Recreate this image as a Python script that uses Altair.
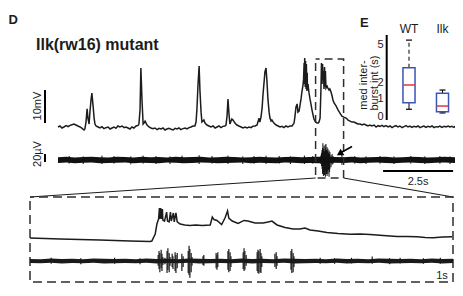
import math
import altair as alt
import pandas as pd

# ================= values =================
# Panel D, upper trace: membrane potential (mV above rest) vs time (s)
vm_samples = [
    (0.00, 0.0), (0.07, 0.3), (0.14, -0.3), (0.21, 0.0), (0.29, 0.4), (0.36, 0.1), (0.43, 0.5),
    (0.50, 0.7), (0.57, 0.9), (0.64, 0.6), (0.71, 0.3), (0.79, 0.0), (0.86, -0.4),
    (0.93, -0.9), (0.96, -0.6), (1.00, 1.5), (1.04, 5.5), (1.07, 2.7), (1.11, 0.9), (1.14, 4.5),
    (1.18, 8.2), (1.21, 10.3), (1.25, 6.7), (1.29, 2.7), (1.32, 0.9), (1.36, 0.3),
    (1.43, 0.0), (1.50, -0.3), (1.57, 0.1), (1.64, -0.5), (1.71, -0.2), (1.79, 0.0), (1.86, -0.6),
    (1.93, -0.3), (2.00, 0.0), (2.07, -0.4), (2.14, 0.3), (2.21, 0.0), (2.29, 0.3), (2.36, -0.2),
    (2.43, 0.0), (2.50, -0.3), (2.57, -0.6), (2.64, 0.0), (2.71, -0.3), (2.79, 0.3), (2.86, 0.5),
    (2.89, 0.9), (2.93, 5.2), (2.96, 17.9), (3.00, 8.2), (3.04, 0.9), (3.07, 1.2), (3.11, 1.8), (3.18, 0.6),
    (3.25, 0.0), (3.32, -0.3), (3.39, -0.5), (3.46, -0.3), (3.54, -0.8), (3.61, -0.4), (3.68, -0.6),
    (3.75, -0.3), (3.82, -0.9), (3.89, -0.6), (3.96, -0.4), (4.04, -0.7), (4.11, -0.9), (4.18, -0.4),
    (4.25, -0.6), (4.32, -0.3), (4.39, -0.8), (4.46, -0.5), (4.54, -0.3), (4.61, -0.6), (4.68, -0.2),
    (4.75, 0.0), (4.82, 0.3),
    (4.89, 0.3), (4.93, 1.5), (4.96, 5.2), (5.00, 12.7), (5.04, 18.5), (5.07, 11.0), (5.11, 4.5),
    (5.14, 1.5), (5.18, 1.8), (5.21, 2.1), (5.25, 1.2), (5.32, 0.6),
    (5.39, 0.3), (5.46, 0.0), (5.54, 0.3), (5.61, -0.3), (5.68, 0.0), (5.75, 0.3), (5.82, -0.2),
    (5.89, 0.2), (5.96, 0.3),
    (6.00, 0.6), (6.04, 3.6), (6.07, 8.5), (6.11, 3.6), (6.14, 0.9), (6.18, 1.8), (6.21, 2.4),
    (6.25, 2.1), (6.32, 1.2), (6.39, 0.6),
    (6.46, 0.3), (6.54, 0.0), (6.61, -0.3), (6.68, 0.0), (6.75, -0.3), (6.82, 0.0), (6.89, -0.2),
    (6.96, 0.2), (7.04, 0.3),
    (7.11, 0.6), (7.14, 1.5), (7.18, 2.7), (7.21, 1.5), (7.25, 3.0), (7.29, 5.8), (7.32, 9.7),
    (7.36, 13.6), (7.39, 16.7), (7.43, 17.9), (7.46, 14.2), (7.50, 8.2), (7.54, 4.5), (7.57, 2.7),
    (7.61, 1.8), (7.64, 2.1), (7.71, 1.2), (7.79, 0.6),
    (7.86, 0.3), (7.93, 0.0), (8.00, 0.2), (8.07, -0.2), (8.14, 0.3), (8.21, 0.0), (8.29, 0.3),
    (8.36, 0.3), (8.43, 1.2), (8.46, 3.0), (8.50, 6.1), (8.54, 7.0), (8.57, 4.5), (8.61, 4.8),
    (8.64, 6.4), (8.68, 8.5), (8.71, 10.6), (8.75, 12.7), (8.77, 14.5), (8.79, 19.4), (8.80, 13.0),
    (8.81, 20.9), (8.83, 12.1), (8.84, 20.0), (8.86, 11.5), (8.87, 19.1), (8.89, 10.9), (8.90, 16.4),
    (8.91, 11.2), (8.93, 13.0), (8.96, 10.6), (9.00, 8.5), (9.04, 6.7), (9.07, 5.2), (9.11, 3.6),
    (9.14, 2.4), (9.18, 1.8), (9.21, 1.5), (9.25, 1.2), (9.29, 1.2), (9.32, 1.5),
    (9.36, 2.7), (9.39, 11.2), (9.41, 19.4), (9.43, 13.0), (9.45, 19.1), (9.46, 14.5), (9.48, 17.0),
    (9.50, 11.5), (9.52, 18.2), (9.54, 12.1), (9.55, 17.0), (9.57, 11.8), (9.61, 12.4), (9.64, 11.8),
    (9.68, 11.2), (9.71, 11.5), (9.75, 10.6), (9.79, 9.4), (9.82, 8.2), (9.86, 7.3), (9.93, 6.4),
    (10.00, 5.2), (10.07, 4.2), (10.14, 3.3), (10.21, 3.0), (10.29, 2.7), (10.36, 2.1), (10.43, 1.8),
    (10.50, 1.5), (10.57, 1.5), (10.64, 1.2), (10.71, 0.9), (10.79, 0.9), (10.86, 0.6),
    (10.93, 0.9), (11.00, 0.6), (11.07, 0.3), (11.14, 0.6), (11.21, 0.3), (11.29, 0.6), (11.36, 0.0),
    (11.43, 0.4), (11.50, 0.2), (11.57, 0.5), (11.64, 0.1), (11.71, 0.4), (11.79, 0.0), (11.86, 0.3),
    (11.93, -0.2), (12.00, 0.2), (12.07, 0.4), (12.14, 0.0), (12.21, 0.3), (12.29, -0.2), (12.36, 0.1),
    (12.43, 0.4), (12.50, 0.0), (12.57, 0.3), (12.64, -0.1), (12.71, 0.2), (12.79, 0.0), (12.86, 0.3),
    (12.93, -0.2), (13.00, 0.1), (13.07, 0.3), (13.14, -0.1), (13.21, 0.2), (13.29, 0.0), (13.36, 0.3),
    (13.43, -0.2), (13.50, 0.1), (13.57, 0.0), (13.64, 0.3), (13.71, -0.1), (13.79, 0.2), (13.86, 0.0),
    (13.93, 0.3), (14.00, 0.0), (14.07, 0.2), (14.14, -0.1), (14.18, 0.2),
]

# Panel D, lower trace: extracellular record, noise envelope (µV)
field_t = [0.0, 0.3, 0.6, 0.9, 1.2, 1.5, 1.8, 2.1, 2.4, 2.7, 3.0, 3.3, 3.6, 3.9, 4.2, 4.5,
           4.8, 5.1, 5.4, 5.7, 6.0, 6.3, 6.6, 6.9, 7.2, 7.5, 7.8, 8.1, 8.4, 8.7, 9.0, 9.3,
           9.6, 9.9, 10.2, 10.5, 10.8, 11.1, 11.4, 11.7, 12.0, 12.3, 12.6, 12.9, 13.2, 13.5,
           13.8, 14.18]
field_hi = [7, 8, 6.5, 7.5, 8, 7, 6.5, 8, 7.5, 6.5, 8, 7, 7.5, 6.5, 8, 7, 7.5, 8, 6.5, 7, 8,
            7.5, 6.5, 7, 8, 7, 6.5, 7.5, 8, 7, 7.5, 8, 8, 7.5, 7, 8, 6.5, 7, 7.5, 8, 6.5, 7, 8,
            7.5, 6.5, 7, 8, 7]
field_lo = [-7.5, -6.5, -8, -7, -6.5, -8, -7.5, -7, -6.5, -8, -7, -7.5, -8, -6.5, -7, -8, -7.5,
            -6.5, -7, -8, -7.5, -7, -6.5, -8, -7, -7.5, -8, -6.5, -7, -8, -7.5, -8, -8, -7, -7.5,
            -6.5, -8, -7, -6.5, -7.5, -8, -7, -6.5, -7.5, -8, -7, -6.5, -7.5]
# isolated unit spikes: (time s, upper µV, lower µV)
field_spikes = [
    (0.4, 10, -9), (0.9, 9, -10), (1.57, 11, -10), (2.0, 10, -9), (2.6, 9, -11), (3.04, 11, -9),
    (3.5, 10, -10), (4.0, 9, -10), (4.43, 11, -8), (5.04, 12, -10), (5.5, 10, -9), (6.07, 11, -10),
    (6.6, 9, -10), (7.0, 10, -9), (7.43, 11, -10), (7.9, 10, -9), (8.3, 9, -10), (8.8, 11, -10),
    (9.1, 10, -9), (10.14, 14, -12), (10.6, 10, -9), (11.0, 9, -10), (11.5, 10, -9), (12.0, 9, -10),
    (12.6, 10, -9), (13.1, 9, -10), (13.64, 10, -9), (14.0, 9, -10),
]
# the burst (arrow): (time s, upper µV, lower µV)
field_burst = [
    (9.39, 12, -10), (9.41, 18, -15), (9.43, 25, -22), (9.45, 30, -35), (9.46, 42, -28),
    (9.48, 28, -40), (9.50, 35, -30), (9.52, 22, -38), (9.54, 38, -25), (9.55, 30, -42),
    (9.57, 40, -30), (9.59, 25, -35), (9.61, 32, -40), (9.63, 22, -28), (9.64, 28, -35),
    (9.66, 18, -25), (9.68, 24, -42), (9.70, 15, -30), (9.71, 20, -22), (9.75, 12, -18),
    (9.79, 15, -12), (9.82, 10, -10),
]

# Expanded 1-s window: membrane potential (time s within window, mV)
inset_vm = [
    (0.000, 0.0), (0.071, -0.7), (0.165, -1.3), (0.236, -2.0), (0.284, -2.3), (0.288, -2.0),
    (0.296, 2.7), (0.300, 9.3), (0.304, 12.7), (0.306, 20.0), (0.307, 12.7), (0.309, 20.0),
    (0.311, 12.7), (0.313, 19.3), (0.314, 12.0), (0.318, 11.3), (0.323, 17.3), (0.325, 11.3),
    (0.329, 10.7), (0.332, 17.3), (0.334, 11.3), (0.339, 16.7), (0.341, 10.7), (0.345, 16.7),
    (0.348, 10.7), (0.355, 9.3), (0.366, 8.7), (0.378, 8.3), (0.392, 8.7), (0.407, 8.3),
    (0.426, 8.7), (0.431, 14.0), (0.435, 12.3), (0.442, 11.7), (0.453, 9.0), (0.461, 13.3),
    (0.467, 18.0), (0.470, 13.3), (0.478, 11.3), (0.492, 9.7), (0.506, 11.7), (0.515, 11.3),
    (0.532, 10.0), (0.551, 10.0), (0.563, 10.7), (0.572, 11.3), (0.584, 8.7), (0.603, 7.0),
    (0.622, 6.0), (0.638, 6.0), (0.650, 6.7), (0.662, 5.3), (0.681, 4.7), (0.702, 3.7),
    (0.728, 3.0), (0.757, 2.5), (0.780, 2.7), (0.804, 2.3), (0.835, 1.7), (0.868, 1.0),
    (0.891, 1.0), (0.915, 0.9), (0.934, 0.3), (0.953, 0.2), (0.976, 0.7), (0.998, 0.9),
]
# Expanded window: extracellular envelope (µV)
inset_field_t = [0.0, 0.025, 0.05, 0.075, 0.1, 0.125, 0.15, 0.175, 0.2, 0.225, 0.25, 0.275,
                 0.3, 0.325, 0.35, 0.375, 0.4, 0.425, 0.45, 0.475, 0.5, 0.525, 0.55, 0.575,
                 0.6, 0.625, 0.65, 0.675, 0.7, 0.725, 0.75, 0.775, 0.8, 0.825, 0.85, 0.875,
                 0.9, 0.925, 0.95, 0.975, 1.0]
inset_field_hi = [5, 4.5, 6, 5, 5.5, 4.5, 6, 5.5, 5, 5.5, 4.5, 6, 5, 5.5, 4.5, 6, 5.5, 5, 5.5,
                  4.5, 6, 5, 5.5, 4.5, 6, 5.5, 5, 5.5, 4.5, 6, 5, 5.5, 4.5, 6, 5.5, 5, 5.5, 4.5,
                  6, 5, 5.5]
inset_field_lo = [-5, -5.5, -4.5, -6, -5, -5.5, -4.5, -6, -5.5, -5, -5.5, -4.5, -6, -5, -5.5,
                  -4.5, -6, -5.5, -5, -5.5, -4.5, -6, -5, -5.5, -4.5, -6, -5.5, -5, -5.5, -4.5,
                  -6, -5, -5.5, -4.5, -6, -5.5, -5, -5.5, -4.5, -6, -5]
inset_spikes = [
    (0.303, 15, -12), (0.305, 25, -20), (0.307, 20, -28), (0.310, 28, -18), (0.312, 18, -25),
    (0.314, 10, -10), (0.319, 8, -8), (0.324, 25, -30), (0.326, 32, -22), (0.329, 20, -28),
    (0.331, 10, -12), (0.336, 18, -15), (0.338, 12, -20), (0.343, 22, -25), (0.345, 15, -30),
    (0.348, 20, -18), (0.359, 18, -25), (0.362, 12, -15), (0.374, 25, -30), (0.376, 38, -35),
    (0.378, 30, -42), (0.381, 20, -28), (0.383, 10, -12), (0.409, 12, -10), (0.411, 15, -12),
    (0.440, 20, -18), (0.442, 15, -22), (0.444, 22, -15), (0.468, 25, -22), (0.470, 30, -28),
    (0.473, 22, -25), (0.475, 12, -15), (0.504, 22, -20), (0.506, 32, -25), (0.508, 25, -22),
    (0.511, 15, -12), (0.537, 22, -25), (0.539, 28, -30), (0.541, 25, -32), (0.544, 30, -28),
    (0.546, 20, -30), (0.548, 12, -15), (0.579, 18, -15), (0.582, 22, -20), (0.584, 12, -12),
    (0.617, 25, -22), (0.619, 30, -30), (0.622, 20, -28), (0.624, 12, -15),
    (0.05, 8, -7), (0.12, 7, -8), (0.20, 8, -7), (0.26, 7, -8), (0.686, 8, -7), (0.72, 7, -7),
    (0.76, 8, -6), (0.809, 11, -7), (0.85, 7, -8), (0.875, 8, -6), (0.93, 7, -7), (0.97, 8, -7),
]

# Panel E: median inter-burst interval (s), box-plot statistics
e_groups = ["WT", "Ilk"]
e_pos = [0, 1]
e_whisk_lo = [0.40, 0.20]
e_q1 = [0.77, 0.27]
e_median = [1.87, 0.58]
e_q3 = [3.09, 1.34]
e_whisk_hi = [5.40, 1.54]
e_ticks = [0, 1, 2, 5]
e_title_lines = ["med inter-", "burst int (s)"]

# scale bars and expanded window
BAR_MV = 10
BAR_UV = 20
BAR_S = 2.5
WINDOW = (9.2, 10.2)

# ================= layout (page pixels) =================
PAGE = 8
W, H = 447, 280
FONT = "Liberation Sans"
INK = "#1c1c1c"
DASH = "#2e2e2e"
BLUE = "#3a55b4"
RED = "#e5333b"


def dom_x(v0, p0, v1, p1):
    a = (p1 - p0) / (v1 - v0)
    return [v0 + (PAGE - p0) / a, v0 + (PAGE + W - p0) / a]


def dom_y(v0, p0, v1, p1):
    a = (p1 - p0) / (v1 - v0)
    return [v0 + (PAGE + H - p0) / a, v0 + (PAGE - p0) / a]


def at_x(dom, px):
    return dom[0] + (px - PAGE) / W * (dom[1] - dom[0])


def at_y(dom, py):
    return dom[1] - (py - PAGE) / H * (dom[1] - dom[0])


C = 7.0


def sl(v):
    return math.copysign(math.log1p(abs(v) / C), v)


def sl_inv(u):
    return math.copysign(C * math.expm1(abs(u)), u)


E_Y0, E_Y5 = 116.7, 44.5
_a = (E_Y5 - E_Y0) / (sl(5) - sl(0))


def e_at_y(py):
    return sl_inv(sl(0) + (py - E_Y0) / _a)


sx_main = dom_x(0, 58, 1, 58 + 28)
sy_vm = dom_y(0, 127, 1, 127 - 3.3)
sy_fld = dom_y(0, 160, 1, 160 - 0.4)
sx_in = dom_x(0, 30, 1, 453)
sy_in_vm = dom_y(0, 238, 1, 238 - 1.5)
sy_in_fld = dom_y(0, 261, 1, 261 - 0.4)
sx_e = dom_x(0, 409, 1, 442.5)
sy_e = [e_at_y(PAGE + H), e_at_y(PAGE)]


def X(f, d):
    return alt.X(f, type="quantitative", scale=alt.Scale(domain=d, nice=False, zero=False), axis=None)


def Y(f, d):
    return alt.Y(f, type="quantitative", scale=alt.Scale(domain=d, nice=False, zero=False), axis=None)


def YE(f):
    return alt.Y(f, type="quantitative",
                 scale=alt.Scale(type="symlog", constant=C, domain=sy_e, nice=False, zero=False),
                 axis=None)


def text_layer(x, y, label, xd, yd, size=11, bold=False, angle=0, align="center",
               baseline="middle", yenc=None):
    df = pd.DataFrame({"x": [x], "y": [y], "label": [label]})
    mk = dict(font=FONT, fontSize=size, color=INK, align=align, baseline=baseline)
    if bold:
        mk["fontWeight"] = "bold"
    if angle:
        mk["angle"] = angle
    return alt.Chart(df).mark_text(**mk).encode(
        x=X("x", xd), y=(yenc("y") if yenc else Y("y", yd)), text="label:N")


layers = []

# ---- Panel D main traces ----
vm_df = pd.DataFrame(vm_samples, columns=["t", "v"])
layers.append(alt.Chart(vm_df).mark_line(color=INK, strokeWidth=1.5).encode(
    x=X("t", sx_main), y=Y("v", sy_vm)))

fld_df = pd.DataFrame({"t": field_t, "hi": field_hi, "lo": field_lo})
layers.append(alt.Chart(fld_df).mark_area(color="#111111").encode(
    x=X("t", sx_main), y=Y("hi", sy_fld), y2="lo"))
sp_df = pd.DataFrame(field_spikes + field_burst, columns=["t", "hi", "lo"])
layers.append(alt.Chart(sp_df).mark_rule(color="#111111", strokeWidth=1).encode(
    x=X("t", sx_main), y=Y("hi", sy_fld), y2="lo"))

# scale bars
bar_x = at_x(sx_main, 45)
mv_bar = pd.DataFrame({"t": [bar_x], "a": [1.2], "b": [1.2 + BAR_MV]})
layers.append(alt.Chart(mv_bar).mark_rule(color="black", strokeWidth=2).encode(
    x=X("t", sx_main), y=Y("a", sy_vm), y2="b"))
uv_bar = pd.DataFrame({"t": [bar_x], "a": [-5], "b": [-5 + BAR_UV]})
layers.append(alt.Chart(uv_bar).mark_rule(color="black", strokeWidth=2).encode(
    x=X("t", sx_main), y=Y("a", sy_fld), y2="b"))
s_bar = pd.DataFrame({"a": [11.61], "b": [11.61 + BAR_S], "y": [-27.5]})
layers.append(alt.Chart(s_bar).mark_rule(color="black", strokeWidth=2).encode(
    x=X("a", sx_main), x2="b", y=Y("y", sy_fld)))

layers.append(text_layer(at_x(sx_main, 38), at_y(sy_vm, 106), "10mV", sx_main, sy_vm, angle=270))
layers.append(text_layer(at_x(sx_main, 38), at_y(sy_fld, 154), "20µV", sx_main, sy_fld, angle=270))
layers.append(text_layer(11.61 + BAR_S / 2, at_y(sy_fld, 182), "2.5s", sx_main, sy_fld))

# window rectangle on the main trace
win = pd.DataFrame({"a": [WINDOW[0]], "b": [WINDOW[1]],
                    "top": [at_y(sy_vm, 59)], "bot": [at_y(sy_vm, 178)]})
layers.append(alt.Chart(win).mark_rect(fill="transparent", stroke=DASH, strokeWidth=1.5,
                                       strokeDash=[8, 5], strokeDashOffset=4).encode(
    x=X("a", sx_main), x2="b", y=Y("top", sy_vm), y2="bot"))

# connectors from the window to the expanded view
conn = pd.DataFrame({
    "x": [WINDOW[0], WINDOW[1]],
    "y": [at_y(sy_vm, 178)] * 2,
    "x2": [at_x(sx_main, 30), at_x(sx_main, 453)],
    "y2": [at_y(sy_vm, 197)] * 2,
})
layers.append(alt.Chart(conn).mark_rule(color=INK, strokeWidth=1.2).encode(
    x=X("x", sx_main), y=Y("y", sy_vm), x2="x2", y2="y2"))

# arrow to the burst
arrow = pd.DataFrame({"x": [10.5], "y": [33.75], "x2": [10.11], "y2": [18.75]})
layers.append(alt.Chart(arrow).mark_rule(color="black", strokeWidth=1.5).encode(
    x=X("x", sx_main), y=Y("y", sy_fld), x2="x2", y2="y2"))
head = pd.DataFrame({"x": [10.06], "y": [16.0]})
layers.append(alt.Chart(head).mark_point(shape="triangle-up", filled=True, size=55, angle=240,
                                         color="black", opacity=1).encode(
    x=X("x", sx_main), y=Y("y", sy_fld)))

# labels
layers.append(text_layer(at_x(sx_main, 8.5), at_y(sy_vm, 24), "D", sx_main, sy_vm, size=13,
                         bold=True, align="left", baseline="alphabetic"))
layers.append(text_layer(at_x(sx_main, 36), at_y(sy_vm, 50), "Ilk(rw16) mutant", sx_main, sy_vm,
                         size=16, bold=True, align="left", baseline="alphabetic"))

# ---- expanded window ----
box_in = pd.DataFrame({"a": [0.0], "b": [1.0], "top": [at_y(sy_in_vm, 197)],
                       "bot": [at_y(sy_in_vm, 282)]})
layers.append(alt.Chart(box_in).mark_rect(fill="transparent", stroke=DASH, strokeWidth=1.5,
                                          strokeDash=[9, 5], strokeDashOffset=5).encode(
    x=X("a", sx_in), x2="b", y=Y("top", sy_in_vm), y2="bot"))

in_vm_df = pd.DataFrame(inset_vm, columns=["t", "v"])
layers.append(alt.Chart(in_vm_df).mark_line(color=INK, strokeWidth=1.5).encode(
    x=X("t", sx_in), y=Y("v", sy_in_vm)))
in_fld = pd.DataFrame({"t": inset_field_t, "hi": inset_field_hi, "lo": inset_field_lo})
layers.append(alt.Chart(in_fld).mark_area(color="#1a1a1a").encode(
    x=X("t", sx_in), y=Y("hi", sy_in_fld), y2="lo"))
in_sp = pd.DataFrame(inset_spikes, columns=["t", "hi", "lo"])
layers.append(alt.Chart(in_sp).mark_rule(color="#1a1a1a", strokeWidth=1.2).encode(
    x=X("t", sx_in), y=Y("hi", sy_in_fld), y2="lo"))
layers.append(text_layer(at_x(sx_in, 442), at_y(sy_in_fld, 276), "1s", sx_in, sy_in_fld))

# ---- Panel E ----
e_df = pd.DataFrame({"group": e_groups, "pos": e_pos, "lo": e_whisk_lo, "q1": e_q1,
                     "med": e_median, "q3": e_q3, "hi": e_whisk_hi})
BOX_HALF = 0.18
CAP_HALF = 0.09
e_base = alt.Chart(e_df).transform_calculate(
    b0=f"datum.pos - {BOX_HALF}", b1=f"datum.pos + {BOX_HALF}",
    c0=f"datum.pos - {CAP_HALF}", c1=f"datum.pos + {CAP_HALF}",
    hy=f"{e_at_y(29)}")
layers.append(e_base.mark_rule(color="black", strokeWidth=1, strokeDash=[4, 3]).encode(
    x=X("pos", sx_e), y=YE("q3"), y2="hi"))
layers.append(e_base.mark_rule(color="black", strokeWidth=1).encode(
    x=X("pos", sx_e), y=YE("lo"), y2="q1"))
layers.append(e_base.mark_rule(color="black", strokeWidth=1.2).encode(
    x=X("c0", sx_e), x2="c1", y=YE("hi")))
layers.append(e_base.mark_rule(color="black", strokeWidth=1.2).encode(
    x=X("c0", sx_e), x2="c1", y=YE("lo")))
layers.append(e_base.mark_rect(fill="transparent", stroke=BLUE, strokeWidth=1.5).encode(
    x=X("b0", sx_e), x2="b1", y=YE("q1"), y2="q3"))
layers.append(e_base.mark_rule(color=RED, strokeWidth=1.5).encode(
    x=X("b0", sx_e), x2="b1", y=YE("med")))
layers.append(e_base.mark_text(font=FONT, fontSize=12, color=INK, baseline="middle").encode(
    x=X("pos", sx_e), y=YE("hy"), text="group:N"))

axis_x = at_x(sx_e, 386.7)
e_axis = pd.DataFrame({"x": [axis_x], "a": [e_at_y(120)], "b": [e_at_y(35)]})
layers.append(alt.Chart(e_axis).mark_rule(color="black", strokeWidth=2).encode(
    x=X("x", sx_e), y=YE("a"), y2="b"))
tick_df = pd.DataFrame({"v": e_ticks, "x": [axis_x] * len(e_ticks),
                        "label": [str(t) for t in e_ticks]})
layers.append(alt.Chart(tick_df).mark_text(font=FONT, fontSize=11, color=INK, align="right",
                                           baseline="middle", dx=-3).encode(
    x=X("x", sx_e), y=YE("v"), text="label:N"))
layers.append(text_layer(at_x(sx_e, 363.5), e_at_y(85), e_title_lines[0], sx_e, None,
                         angle=270, yenc=YE))
layers.append(text_layer(at_x(sx_e, 374.5), e_at_y(83), e_title_lines[1], sx_e, None,
                         angle=270, yenc=YE))
layers.append(text_layer(at_x(sx_e, 360), e_at_y(27), "E", sx_e, None, size=13, bold=True,
                         align="left", baseline="alphabetic", yenc=YE))

chart = alt.layer(*layers).resolve_scale(x="independent", y="independent").properties(
    width=W, height=H, padding=0, autosize=alt.AutoSizeParams(type="none")
).configure_view(strokeWidth=0)

chart.save("out.html", embed_options={"renderer": "svg", "actions": False})
